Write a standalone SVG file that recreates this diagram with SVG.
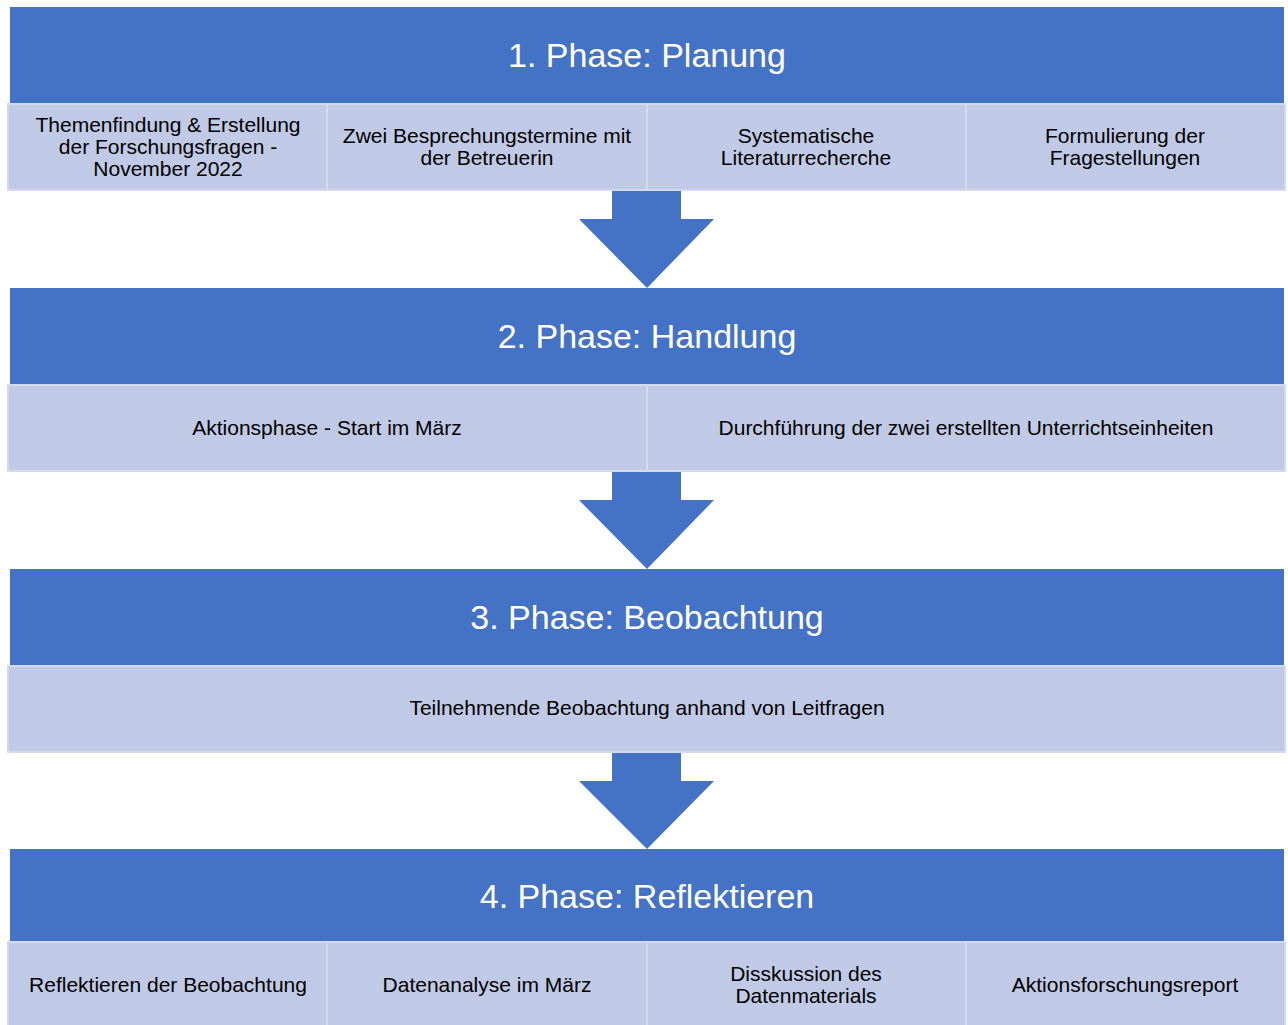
<svg xmlns="http://www.w3.org/2000/svg" width="1288" height="1025" viewBox="0 0 1288 1025">
<style>
.hdr{fill:#4472c4}
.cell{fill:#c0cae6;stroke:#d3daee;stroke-width:2}
.ht{font-family:"Liberation Sans",Arial,sans-serif;font-size:34px;fill:#ffffff;text-anchor:middle}
.ct{font-family:"Liberation Sans",Arial,sans-serif;font-size:21px;fill:#000000;text-anchor:middle}
.arr{fill:#4472c4}
</style>
<rect width="1288" height="1025" fill="#ffffff"/>
<g id="phase1">
<rect class="hdr" x="10" y="7" width="1274" height="96"/>
<text class="ht" x="647" y="67">1. Phase: Planung</text>
</g>
<g id="p1c1"><rect class="cell" x="8" y="104" width="319" height="86"/>
<text class="ct" x="168" y="132">Themenfindung &amp; Erstellung</text><text class="ct" x="168" y="154">der Forschungsfragen -</text><text class="ct" x="168" y="176">November 2022</text></g>
<g id="p1c2"><rect class="cell" x="327" y="104" width="320" height="86"/>
<text class="ct" x="487" y="143">Zwei Besprechungstermine mit</text><text class="ct" x="487" y="165">der Betreuerin</text></g>
<g id="p1c3"><rect class="cell" x="647" y="104" width="319" height="86"/>
<text class="ct" x="806" y="143">Systematische</text><text class="ct" x="806" y="165">Literaturrecherche</text></g>
<g id="p1c4"><rect class="cell" x="966" y="104" width="319" height="86"/>
<text class="ct" x="1125" y="143">Formulierung der</text><text class="ct" x="1125" y="165">Fragestellungen</text></g>

<g id="phase2">
<rect class="hdr" x="10" y="288" width="1274" height="96"/>
<text class="ht" x="647" y="348">2. Phase: Handlung</text>
</g>
<g id="p2c1"><rect class="cell" x="8" y="385" width="639" height="86"/>
<text class="ct" x="327" y="435">Aktionsphase - Start im März</text></g>
<g id="p2c2"><rect class="cell" x="647" y="385" width="638" height="86"/>
<text class="ct" x="966" y="435">Durchführung der zwei erstellten Unterrichtseinheiten</text></g>

<g id="phase3">
<rect class="hdr" x="10" y="569" width="1274" height="96"/>
<text class="ht" x="647" y="629">3. Phase: Beobachtung</text>
</g>
<g id="p3c1"><rect class="cell" x="8" y="666" width="1277" height="86"/>
<text class="ct" x="647" y="715">Teilnehmende Beobachtung anhand von Leitfragen</text></g>

<g id="phase4">
<rect class="hdr" x="10" y="849" width="1274" height="92"/>
<text class="ht" x="647" y="908">4. Phase: Reflektieren</text>
</g>
<g id="p4c1"><rect class="cell" x="8" y="942" width="319" height="86"/>
<text class="ct" x="168" y="992">Reflektieren der Beobachtung</text></g>
<g id="p4c2"><rect class="cell" x="327" y="942" width="320" height="86"/>
<text class="ct" x="487" y="992">Datenanalyse im März</text></g>
<g id="p4c3"><rect class="cell" x="647" y="942" width="319" height="86"/>
<text class="ct" x="806" y="981">Disskussion des</text><text class="ct" x="806" y="1003">Datenmaterials</text></g>
<g id="p4c4"><rect class="cell" x="966" y="942" width="319" height="86"/>
<text class="ct" x="1125" y="992">Aktionsforschungsreport</text></g>

<g id="connectors">
<polygon class="arr" points="612,191 681,191 681,219 714,219 647,288 579,219 612,219"/>
<polygon class="arr" points="612,472 681,472 681,500 714,500 647,569 579,500 612,500"/>
<polygon class="arr" points="612,753 681,753 681,781 714,781 647,849 579,781 612,781"/>
</g>
</svg>
